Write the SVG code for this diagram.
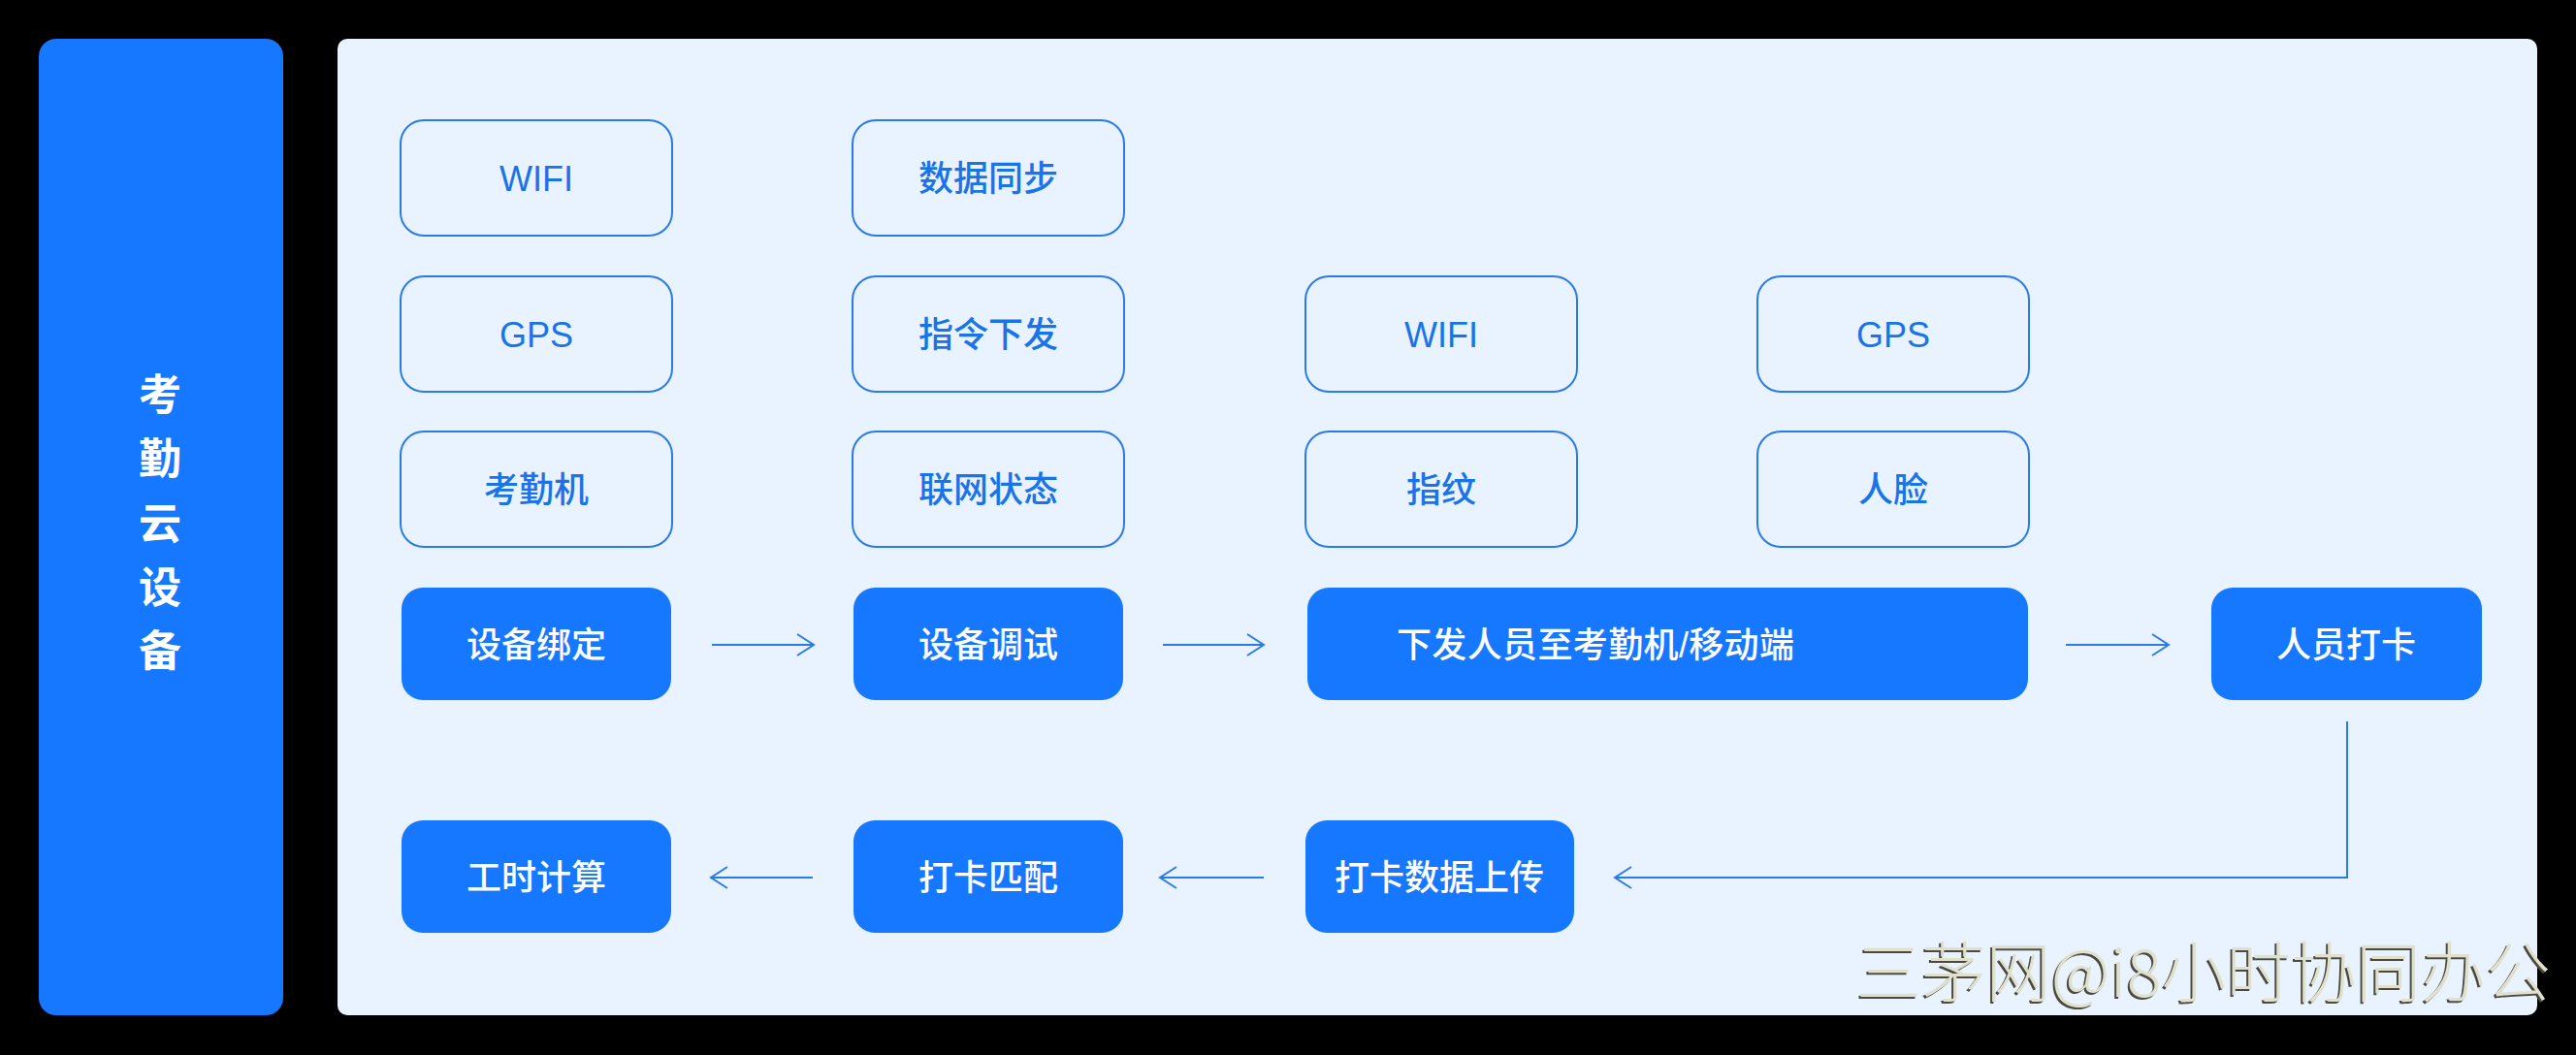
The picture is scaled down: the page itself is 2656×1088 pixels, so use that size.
<svg xmlns="http://www.w3.org/2000/svg" width="2656" height="1088" viewBox="0 0 2656 1088">
<defs>
<style>
.bg{fill:#000}
.side{fill:#1677ff}
.panel{fill:#e8f3ff}
.ob{fill:#e8f3ff;stroke:#2a7be9;stroke-width:2}
.fb{fill:#1677ff}
.t{font-family:"Liberation Sans","Noto Sans CJK SC",sans-serif;font-size:36px;text-anchor:middle;dominant-baseline:central}
.to{fill:#1a73e8;font-weight:500}
.tf{fill:#fff;font-weight:500}
.side-t{font-family:"Noto Sans CJK SC",sans-serif;font-size:44px;fill:#fff;font-weight:700;text-anchor:middle;dominant-baseline:central}
.ln{fill:none;stroke:#2a7be9;stroke-width:2}
.wm{font-family:"Noto Sans CJK SC",sans-serif;font-size:68px;font-weight:300}
</style>
<marker id="ah" viewBox="0 0 20 24" refX="18" refY="12" markerWidth="20" markerHeight="24" markerUnits="userSpaceOnUse" orient="auto">
<path d="M1,1 L18,12 L1,23" fill="none" stroke="#2a7be9" stroke-width="2"/>
</marker>
</defs>
<rect class="bg" x="0" y="0" width="2656" height="1088"/>
<g id="side">
<rect class="side" x="40" y="40" width="252" height="1007" rx="18"/>
<text class="side-t"><tspan x="165" y="404">考</tspan><tspan x="165" y="470">勤</tspan><tspan x="165" y="537">云</tspan><tspan x="165" y="603">设</tspan><tspan x="165" y="668">备</tspan></text>
</g>
<rect class="panel" x="348" y="40" width="2268" height="1007" rx="10"/>

<g id="n-wifi1"><rect class="ob" x="413" y="124" width="280" height="119" rx="24"/><text class="t to" x="553" y="184">WIFI</text></g>
<g id="n-gps1"><rect class="ob" x="413" y="285" width="280" height="119" rx="24"/><text class="t to" x="553" y="345">GPS</text></g>
<g id="n-kqj"><rect class="ob" x="413" y="445" width="280" height="119" rx="24"/><text class="t to" x="553" y="505">考勤机</text></g>

<g id="n-sync"><rect class="ob" x="879" y="124" width="280" height="119" rx="24"/><text class="t to" x="1019" y="184">数据同步</text></g>
<g id="n-cmd"><rect class="ob" x="879" y="285" width="280" height="119" rx="24"/><text class="t to" x="1019" y="345">指令下发</text></g>
<g id="n-net"><rect class="ob" x="879" y="445" width="280" height="119" rx="24"/><text class="t to" x="1019" y="505">联网状态</text></g>

<g id="n-wifi2"><rect class="ob" x="1346" y="285" width="280" height="119" rx="24"/><text class="t to" x="1486" y="345">WIFI</text></g>
<g id="n-finger"><rect class="ob" x="1346" y="445" width="280" height="119" rx="24"/><text class="t to" x="1486" y="505">指纹</text></g>

<g id="n-gps2"><rect class="ob" x="1812" y="285" width="280" height="119" rx="24"/><text class="t to" x="1952" y="345">GPS</text></g>
<g id="n-face"><rect class="ob" x="1812" y="445" width="280" height="119" rx="24"/><text class="t to" x="1952" y="505">人脸</text></g>

<g id="n-bind"><rect class="fb" x="414" y="606" width="278" height="116" rx="22"/><text class="t tf" x="553" y="665">设备绑定</text></g>
<g id="n-debug"><rect class="fb" x="880" y="606" width="278" height="116" rx="22"/><text class="t tf" x="1019" y="665">设备调试</text></g>
<g id="n-issue"><rect class="fb" x="1348" y="606" width="743" height="116" rx="22"/><text class="t tf" x="1440" y="665" style="text-anchor:start" textLength="410" lengthAdjust="spacing">下发人员至考勤机/移动端</text></g>
<g id="n-punch"><rect class="fb" x="2280" y="606" width="279" height="116" rx="22"/><text class="t tf" x="2419" y="665">人员打卡</text></g>

<g id="n-hours"><rect class="fb" x="414" y="846" width="278" height="116" rx="22"/><text class="t tf" x="553" y="905">工时计算</text></g>
<g id="n-match"><rect class="fb" x="880" y="846" width="278" height="116" rx="22"/><text class="t tf" x="1019" y="905">打卡匹配</text></g>
<g id="n-upload"><rect class="fb" x="1346" y="846" width="277" height="116" rx="22"/><text class="t tf" x="1484" y="905">打卡数据上传</text></g>

<g id="connectors">
<path class="ln" d="M734,665 H839" marker-end="url(#ah)"/>
<path class="ln" d="M1199,665 H1303" marker-end="url(#ah)"/>
<path class="ln" d="M2130,665 H2236" marker-end="url(#ah)"/>
<path class="ln" d="M2420,744 V905 H1665" marker-end="url(#ah)"/>
<path class="ln" d="M1303,905 H1196" marker-end="url(#ah)"/>
<path class="ln" d="M838,905 H733" marker-end="url(#ah)"/>
</g>

<g id="watermark">
<text class="wm" x="1912" y="1030" fill="#4a4a42" textLength="716" lengthAdjust="spacingAndGlyphs">三茅网@i8小时协同办公</text>
<text class="wm" x="1914" y="1028" fill="#e0e1cd" textLength="716" lengthAdjust="spacingAndGlyphs">三茅网@i8小时协同办公</text>
</g>
</svg>
